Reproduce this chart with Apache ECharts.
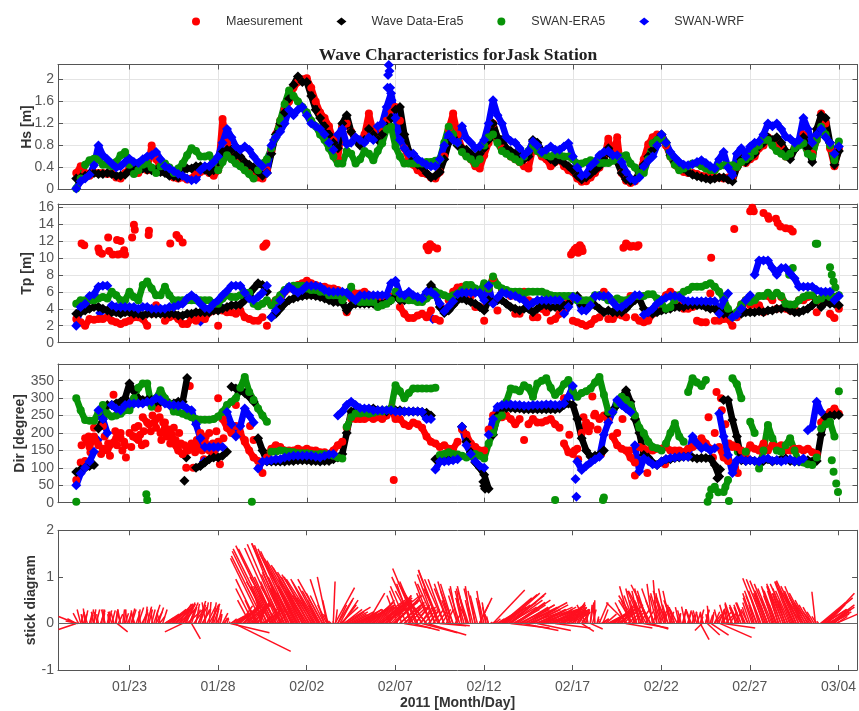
<!DOCTYPE html>
<html><head><meta charset="utf-8">
<style>html,body{margin:0;padding:0;background:#fff}#c{width:859px;height:711px;filter:blur(0.5px)}</style>
<script src="https://cdn.jsdelivr.net/npm/echarts@6/dist/echarts.min.js"></script>
</head><body><div id="c"></div>
<script>
const _ = null;
// x positions: day number counted from 1 Jan 2011 (01/23 = 23, 02/02 = 33, 03/04 = 63)
const tickDays = [23,28,33,38,43,48,53,58,63];
const tickLabels = ['01/23','01/28','02/02','02/07','02/12','02/17','02/22','02/27','03/04'];
const seriesNames = ['Maesurement','Wave Data-Era5','SWAN-ERA5','SWAN-WRF'];
// sampling days of the value lists: 20.00, 20.25 ... 63.00
const sampleDays = Array.from({length:173},(v,i)=>20+i/4);

const hsMeas = [.3,.42,.3,.25, .3,.3,.3,.28, .3,.22,.2,.3, .4,.35,.3,.4, .35,.8,.55,.4, .32,.28,.22,.2, .22,.18,.2,.3, .32,.35,.3,.25,
 .35,1.28,.85,.62, .55,.5,.42,.35, .28,.22,.2,.35, .7,1.0,1.25,1.45, 1.6,1.85,1.95,2.0, 2.02,1.85,1.6,1.4, 1.3,1.15,.9,.55,
 1.15,1.2,1.05,.9, .85,1.0,1.38,1.05, .95,1.1,1.25,1.45, 1.5,1.25,.75,.55, .45,.35,.3,.28,
 .22,.2,.32,.6, 1.1,1.38,1.0,.75, .62,.55,.42,.38, .62,.85,1.2,.92, .75,.72,.6,.55, .5,.42,.38,.75, .7,.6,.55,.42, .5,.55,.42,.35,
 .32,.2,.14,.15, .22,.3,.4,.55, .92,.6,.95,.3, .16,.12,.15,.3, .55,.82,.95,1.0, .95,.8,.6,.45, .38,.32,.3,.3, .28,.25,.24,.22, .22,.22,.2,.22,
 .22,.4,.5,.48, .55,.6,.75,.8, .95,.88,.85,.75, .6,.65,.75,.85, 1.0,.75,.65,.9, 1.38,1.2,.75,.42, .75];
const hsEra = [.2,.22,.25,.28, .3,.28,.28,.3, .28,.25,.25,.27, .35,.35,.4,.38, .36,.35,.36,.32, .3,.25,.24,.22, .35,.38,.38,.42, .42,.36,.32,.35,
 .5,.68,.72,.72, .62,.6,.5,.45, .4,.32,.25,.3, .65,1.0,1.2,1.4, 1.65,1.9,2.05,1.95, 1.95,1.7,1.45,1.3, 1.15,1.0,.85,.75,
 1.2,1.35,1.05,.9, .8,.9,1.1,1.0, .9,1.0,1.15,1.3, 1.45,1.5,1.0,.7, .55,.45,.4,.3,
 .22,.25,.32,.55, .85,.95,.8,.75, .72,.65,.55,.65, .75,.9,1.2,.95, .9,.75,.7,.65, .6,.55,.6,.9, .85,.7,.62,.55, .5,.55,.48,.42,
 .35,.25,.18,.22, .28,.35,.42,.55, .75,.6,.5,.3, .18,.15,.18,.3, .45,.6,.72,.9, 1.0,.85,.62,.5, .42,.38,.32,.27, .24,.22,.2,.18, .2,.22,.22,.18,
 .15,.4,.55,.5, .58,.65,.78,.85, .95,.9,.95,.85, .7,.55,.72,.85, .95,.75,.5,1.1, 1.35,1.3,.85,.45, .7];
const hsSwanEra = [.02,.2,.45,.53, .56,.55,.45,.45, .42,.5,.62,.68, .45,.28,.35,.45, .47,.4,.3,.42, .47,.4,.3,.38, .47,.62,.75,.7, .6,.6,.62,.5,
 .35,.5,.62,.55, .47,.42,.35,.28, .2,.35,.47,.55, .75,.95,1.25,1.55, 1.8,1.7,1.6,1.5, 1.4,1.25,1.15,1.0, .9,.75,.6,.47,
 .47,.7,.65,.47, .55,.7,.65,.53, .7,.84,1.1,1.14, .78,.6,.47,.47, .47,.47,.47,.5,
 .5,.52,.55,.85, 1.14,1.0,.85,.68, .6,.55,.47,.55, .8,.95,1.0,.85, .7,.65,.6,.55, .5,.6,.7,.78, .7,.65,.62,.6, .65,.62,.6,.6,
 .55,.47,.47,.5, .53,.5,.48,.48, .48,.52,.55,.6, .62,.47,.4,.3, .3,.55,.84,.9, .92,.85,.6,.45, .35,.38,.42,.47, .47,.42,.38,.35, .35,.42,.44,.42,
 .44,.41,.5,.55, .6,.7,.8,.9, .9,.8,.7,.65, .6,.65,.75,.8, .84,.65,.6,.9, 1.14,1.0,.8,.53, .87];
const hsWrf = [.02,.15,.2,.27, .44,.8,.62,.55, .47,.4,.42,.5, .56,.5,.48,.55, .6,.62,.68,.55, .42,.38,.33,.28, .25,.2,.17,.18, .35,.42,.42,.5,
 .6,.85,1.1,.95, .78,.72,.78,.72, .6,.5,.42,.3, .8,.95,1.05,1.2, 1.45,1.35,1.45,1.5, 1.35,1.2,1.15,1.1, 1.0,.85,.72,1.0,
 1.1,.82,.85,.95, .9,.85,.95,.9, 1.15,1.2,1.5,1.75, 1.3,.9,.75,.65, .65,.55,.5,.45,
 .42,.42,.55,.8, 1.0,.9,.85,1.15, .93,.85,.75,.78, .9,1.2,1.62,1.35, 1.2,.95,.88,.85, .75,.62,.7,.87, .8,.68,.72,.78, .72,.72,.78,.84,
 .6,.4,.25,.28, .42,.5,.62,.68, .7,.62,.62,.5, .32,.2,.16,.22, .42,.52,.6,.8, 1.0,.85,.68,.58, .5,.45,.44,.46, .5,.53,.48,.42, .38,.55,.68,.4,
 .26,.65,.75,.6, .78,.85,.87,1.0, 1.2,1.15,1.2,1.1, .96,.92,.85,.9, 1.3,1.1,.85,1.0, 1.1,.95,.85,.65, .78];
const hsWrfSpike = [[37.55,1.85],[37.58,2.08],[37.62,2.26],[37.66,2.15],[37.7,1.85],[37.78,1.62],[38.1,1.45],[28.4,.95],[31.15,.9]];

const tpMeas = [2.8,2.4,2,2.8, 2.7,2.8,2.8,3, 2.6,2.4,2.2,2.4, 2.6,3,3,2.8, 2,3.4,4.4,3.6, 2.6,3,3.2,2.8, 2.2,2.2,2.8,2.6, 3,2.8,3.6,3.8,
 2,3.8,3.6,3.6, 3.4,3.8,3,2.8, 2.6,2.6,3,2, 4.6,5,5.4,6, 6.4,6.6,6.8,7, 7.3,7,6.8,6.6, 6.6,6.4,6.4,6.2, 5.8,3.6,5.2,5.8, 5.8,6,5.6,5,
 4.8,5,5,5.4, 5.6,4.2,3.4,2.9, 2.9,3.2,3.4,3, 3.8,2.8,2.6,4, 5,6,6.5,6.6, 6,5.5,4.2,4.2, 2.6,6.4,7.6,3.8, 6.2,6,5.5,3.4, 3.4,6,5,3, 3,4,3.6,2.6,
 2.8,3.4,4,5, 2.6,2.4,2.2,2, 2.2,2.8,3,6, 2.8,2.8,3.4,3.2, 3,5.5,3,2.6, 2.4,2.6,3.4,4, 5,5.6,6,5.6, 4.4,4,4,4.2, 2.6,2.4,2.4,5.8, 2.6,2.6,2.8,2.8,
 2,3,4.5,5, 4.4,4.6,4.4,3.6, 5.5,5,4,5.4, 4,3.8,4,5, 5,5.4,5.5,3.6, 4.8,4.8,3.4,2.9, 4];
const tpMeasHigh = [[20.3,11.7],[20.45,11.5],[21.25,11.1],[21.3,10.7],[21.45,10.5],[21.8,12.4],[21.85,10.8],[22.05,10.4],[22.3,12.1],[22.35,10.4],[22.5,12],[22.55,10.5],[22.7,10.9],[22.75,10.4],[23.25,13.9],[23.3,13.3],[23.15,12.4],[24.1,13.2],[24.08,12.7],[25.3,11.7],[25.65,12.7],[25.8,12.3],[26,11.8],[30.55,11.3],[30.65,11.5],[30.72,11.7],
 [39.75,11.3],[39.85,10.9],[39.95,11.6],[40.1,11.3],[40.35,11.1],[47.9,10.4],[48,10.7],[48.1,11],[48.2,11.2],[48.3,10.6],[48.4,11.5],[48.5,11.2],[48.55,10.8],[50.85,11.2],[51,11.7],[51.1,11.5],[51.25,11.3],[51.4,11.4],[51.6,11.3],[51.7,11.5],[55.8,10],[57.1,13.4],[58.1,16.4],[58.12,15.9],[58,15.5],[58.2,15.5],[58.75,15.3],[59,14.9],[59.05,14.6],[59.45,14.6],[59.55,14.1],[59.7,13.7],[60,13.5],[60.25,13.4],[60.4,13.1]];
const tpEra = [3.4,3.6,3.8,4, 4.2,4.2,4,3.8, 3.6,3.6,3.4,3.6, 3.6,3.4,3.4,3.2, 3.4,3.4,3.4,3.4, 3.4,3.4,3.4,3.2, 3.2,3.4,3.4,3.6, 3.6,3.6,3.6,3.8,
 3.8,4,4.2,4.4, 4.4,4.5,5,5.6, 6.4,7,6.8,6, 3,3.4,4,4.6, 5,5.2,5.4,5.5, 5.6,5.6,5.5,5.4, 5.2,5,4.8,4.8, 4.7,3.8,4.4,4.6, 4.6,4.6,4.6,4.6,
 4.6,4.6,4.8,5, 5.5,5,5,5.2, 5.2,5.2,5,5.4, 6.8,6,4.2,3.5, 3.8,4.4,5,5.2, 5,4.8,4.6,4.2, 3.8,5,4.8,5, 5,4.6,4.2,4, 3.8,4,4,3.6, 4,4.4,4.4,4.2,
 4.2,4.2,4.4,4.6, 5.4,5.5,4.4,4, 4.4,4.4,4,3.6, 3.8,3.6,3.6,3.6, 4,4.6,5,5.2, 4,3.6,3.4,3.6, 3.8,3.9,4,4.2, 4.2,4.2,4.4,4.4, 4.4,4.4,4.2,4, 4,3.6,3.4,3.4,
 3.2,3.4,3.4,3.6, 3.6,3.6,3.7,3.6, 3.8,3.8,4,4, 4.2,3.8,3.6,3.6, 3.8,4,4.4,5, 4.2,4.8,4.6,4.6, 4.4];
const tpSwanEra = [4.6,5,5,5, 5,5.2,5.4,5.2, 6,5.6,5,5, 6,5.4,5,6.8, 7.2,6.4,5.6,5.6, 6.6,5.6,5,5, 5,5,5,5, 5,5,5,4.6,
 4.6,5.2,5.6,5.4, 5.4,5.6,5.9,5.9, 4.6,4.3,4.6,5, 4.4,5,5.6,6.2, 6.6,6.7,6.7,6.7, 6.4,6.2,6.2,6, 6,5.6,5.6,5.6, 5,5.6,6.6,5, 4.8,4.8,4.8,4.8,
 4.2,4.4,4.6,5, 6,5.2,5.2,5, 5,4.8,4.8,5.2, 5.6,6,5.8,5.6, 5.4,5.6,5.8,6.2, 6.8,6.8,6.4,6, 7,6.4,7.8,6.8, 6.4,6.2,6,6, 6,5.8,6,6, 6,6,5.8,5.6,
 5.5,5.5,5.5,5.5, 5.5,5,5,5, 5,5.6,5.6,5.4, 5,5,5.2,5, 5,5.2,5.5,5.5, 5.5,5.7,5.7,5.2, 4.6,4,4.2,5, 5.6,6,6.2,6.6, 6.6,6.6,6.8,7, 6.6,6,5.2,4,
 3,3.6,4.5,5, 4.8,5,5.5,5.5, 5.9,5.5,5.9,5.5, 4.6,4.5,4.5,5, 5.4,5.6,5.6,5, 5.2,5.6,5.4,5.4, 5.6];
const tpSwanEraHigh = [[60.2,8],[60.4,8.8],[61.7,11.65],[61.78,11.65],[62.5,8.9],[62.6,8],[62.7,7.2],[62.8,6.5]];
const tpWrf = [2,4.2,4.6,5.5, 5.7,6.6,6.7,6.7, 4.4,4.2,4.2,4.2, 4.2,4.2,4,4.2, 4.2,4,4,4, 4,4.2,4.2,4.4, 4.6,5.2,5.6,5.2, 4.6,4.1,4,4.6,
 5,5.6,6.1,6.7, 6.7,6.7,5.9,5.2, 5,5.4,5.9,6.7, 3,3.8,5,6, 6.6,6.2,5.9,6.2, 6.7,6.7,6.7,6.6, 6.2,6,6,6, 6,5.9,5.4,5, 5.6,5.6,5.6,5.6,
 5.6,5.6,5.6,7, 7.3,5.8,5.6,6, 5.6,5.4,5.2,6, 6,5.6,4.6,3.7, 4.3,4.9,5.7,5.9, 5.9,5.9,5.9,5.9, 5,6.7,4.6,5.3, 5.9,5.8,5.6,5.5, 5.2,5,4.4,4.7, 5,5,5,5,
 5,5,3.4,4.2, 5.4,5.2,3.8,3.8, 4.4,5.5,5.5,5.5, 5.5,4.8,4.2,4.2, 4.6,5,5.6,5.6, 3.3,3.6,4,4.6, 5,5.3,5.5,5.5, 5.4,5,4.9,4.9, 4.9,4.9,4.9,4.9, 4.9,3.4,5,5.8,
 3,3.3,4,5, 5.6,8,9.7,9.7, 9.7,8.8,8,8.8, 8.8,8.2,7.6,6.6, 6.6,6.6,6.6,6.2, 6,6,6,5, 5.5];
const tpWrfExtra = [[21.35,3.5],[27,2.5],[40.1,2.8],[28.3,4]];

const dirMeas = [65,115,185,160, 190,165,220,150, 170,185,200,165, 200,190,180,245, 230,280,240,200, 215,190,170,150, 140,150,165,155, 200,175,150,135,
 300,240,215,200, 220,200,175,150, 130,120,85,130, 155,165,160,150, 150,150,155,150, 155,150,150,145, 145,140,150,165, 175,215,245,240,
 240,240,245,240, 245,240,250,270, 240,240,225,220, 230,225,215,190, 175,170,160,165, 155,155,175,210, 195,170,160,150, 150,210,250,245, 245,250,240,225, 240,180,225,240, 230,230,235,240,
 225,215,170,145, 140,155,200,230, 220,255,240,250, 235,190,165,155, 150,130,115,160, 155,150,150,155, 155,160,150,150, 150,145,155,160, 165,185,170,155, 200,160,130,120,
 165,160,150,140, 165,155,150,170, 150,165,160,165, 150,150,155,155, 150,155,145,140, 230,250,260,270, 255];
const dirMeasExtra = [[20.5,120],[20.8,145],[21,215],[21.4,140],[21.6,190],[21.9,135],[22.1,310],[22.3,165],[22.6,150],[22.8,130],[23.1,160],[23.3,215],[23.5,220],[23.7,165],[23.9,170],[24.2,205],[24.4,230],[24.6,270],[24.8,180],[25,230],[25.2,210],[25.4,195],[25.6,180],[25.8,200],[26,140],[26.2,100],[26.4,335],[26.6,100],[26.8,180],[27,195],[27.2,125],[27.5,200],[27.7,170],[27.9,205],[28.1,110],[28.3,185],[28.7,225],[29,280],[29.2,210],[29.5,180],[29.8,220],[30,180],[30.3,100],[37.9,65],
 [20.3,165],[20.7,190],[21.2,175],[21.5,155],[21.8,170],[22.2,205],[22.5,185],[22.7,175],[23.2,190],[23.4,185],[23.6,195],[23.8,205],[24.1,225],[24.3,250],[24.5,215],[24.7,245],[24.9,230],[25.1,190],[25.3,170],[25.5,215],[25.7,160],[25.9,170],[26.1,165],[26.3,150],[26.5,170],[26.7,145],[26.9,165],[27.1,150],[27.3,190],[27.6,165],[27.8,150],[28,175],
 [47.5,300],[47.8,195],[48.1,150],[48.3,125],[48.6,245],[48.9,205],[49.1,305],[49.2,250],[49.4,210],[49.6,140],[50.2,260],[50.5,200],[50.8,240],[51.2,150],[51.5,78],[52.2,85],[53.2,110],[55.65,245],[55.9,130],[56.1,318],[56.35,300],[56.4,265],[56.6,225],[56.8,170],[57,160],[57.15,100],[57.3,85],[57.6,140]];
const dirEra = [88,95,100,105, 108,213,240,280, 280,285,290,300, 342,320,300,295, 295,295,290,290, 288,285,285,290, 290,358,_,100, 105,115,125,130, 130,135,146,333,
 328,323,315,304, 290,185,150,118, 118,118,118,118, 120,120,122,122, 122,120,120,118, 120,120,125,130, 140,200,262,265, 265,265,268,270, 265,265,262,265, 265,265,262,262, 262,262,260,258,
 250,125,120,125, 128,132,135,218, 175,145,115,100, 80,40,195,250, 270,272,272,270, 270,268,268,268, 268,268,268,268, 268,270,280,285, 280,240,185,150, 132,135,138,150, 256,265,280,300,
 323,290,240,200, 137,130,115,108, 118,125,125,128, 130,132,132,130, 127,128,128,127, 108,75,295,295, 237,190,122,120, 122,120,118,120, 125,118,122,125, 127,120,118,118, 120,122,118,120, 195,245,250,252, 252];
const dirEraExtra = [[26.1,63],[26.2,130],[42.95,60],[43,48],[43.05,40],[56.3,95],[56.15,70]];
const dirSwanEra = [300,265,237,235, 235,260,280,255, 247,250,255,265, 265,300,330,342, 342,275,300,323, 300,285,262,260, 255,250,245,240, 238,238,238,240, 247,260,280,290,
 300,330,361,318, 295,270,250,232, 146,146,150,148, 146,145,142,142, 142,140,138,140, 140,138,135,130, 127,218,245,256, 256,258,255,258, 262,262,265,270, 337,320,300,315, 328,328,328,328,
 328,330,137,140, 145,140,138,135, 130,135,140,135, 127,170,200,242, 250,290,328,325, 320,337,330,304, 342,350,357,330, 309,320,340,352, 320,304,315,320, 328,345,361,310, 261,260,285,304,
 295,280,250,215, 199,175,160,156, 150,170,200,228, 190,175,318,357, 345,335,352,_, 46,_,31,65, 357,340,300,146, 232,200,98,150, 223,185,150,146, 165,185,150,118, 115,110,108,130, 213,225,232,190, 320];
const dirSwanEraExtra = [[20,3],[23.95,24],[24,8],[29.9,3],[47,8],[49.7,8],[49.75,15],[55.6,3],[55.7,20],[55.8,38],[56,40],[56.2,30],[56.6,45],[56.8,5],[62.6,122],[62.7,89],[62.85,55],[62.95,31],[57.3,146]];
const dirWrf = [50,84,100,118, 146,265,240,200, 280,270,265,280, 285,285,285,285, 290,290,300,295, 285,280,280,278, 280,270,265,225, 185,160,160,160, 160,160,260,225,
 190,220,270,250, 230,98,118,120, 122,125,125,130, 132,135,135,135, 135,135,132,130, 135,138,140,250, 262,280,290,280, 272,270,270,265, 265,265,265,265, 262,262,262,262, 262,262,260,240,
 240,95,118,118, 120,122,125,218, 165,140,118,105, 100,195,240,275, 280,282,282,280, 280,278,278,280, 280,280,282,282, 280,280,285,305, 335,118,94,105, 115,125,132,195, 230,260,295,280,
 270,260,165,90, 127,120,110,108, 118,125,128,130, 132,132,132,190, 170,156,160,150, 156,256,190,137, 85,122,125,120, 122,120,118,125, 127,120,122,118, 122,125,118,120, 127,208,218,290, 260];
const dirWrfExtra = [[48.15,68],[48.2,17],[48.05,305],[21.2,180],[27.2,118]];

// each stick: [base day, east component in days, north component]
const sticks = [[20,-1,.15],[20,-1,-.13],[20.1,-.7,.05],[20.25,-.2,.3],[20.4,.2,.2],[20.5,-.1,.32],[20.75,.15,.22],[21,.1,.3],[21.2,-.2,.25],[21.4,.2,.3],[21.6,-.1,.3],[21.8,.2,.28],[22,-.2,.25],[22.2,.15,.3],[22.3,.6,-.18],[22.5,-.15,.28],[22.7,.1,.3],[22.9,.2,.2],[23.1,.2,.32],[23.3,-.2,.22],[23.5,.1,.3],[23.7,.3,.2],[23.9,.1,.36],[24.1,.2,.3],[24.3,-.1,.32],[24.5,.35,.25],[24.7,.3,.15],
 [25,.8,.2],[25.2,1,.3],[25.4,1.2,.42],[25.6,1,.35],[25.8,.7,.42],[26,-1,-.18],[26,.6,.4],[26.2,.5,.45],[26.4,.3,.3],[26.5,.5,-.33],[26.7,.3,.3],[26.9,.4,.48],[27.1,.5,.3],[27.3,-.2,.45],[27.5,.6,.42],[27.7,.2,.45],[27.9,.3,.2],[28.1,.1,.15],[28.3,.3,.12],
 [28.7,2.2,-.2],[28.9,3.2,-.6],[28.7,1,.2],[29,1.3,.3],[29.2,1.2,.35],[29.4,1,.4],[29.6,.9,.4],[29.8,1,.42],[30,.9,.45],[30.2,.6,.4],[30.4,.2,.35],[30.5,1.2,.3],[30.7,.7,.25],[30.9,.6,.3],[31.1,.5,.35],
 [30.5,-1.8,1.4],[30.65,-1.9,1.45],[30.8,-2,1.55],[30.95,-2.1,1.6],[31.1,-2.1,1.67],[31.25,-2.1,1.6],[31.4,-1.9,1.62],[31.55,-1.9,1.7],[31.7,-1.8,1.72],[31.85,-1.8,1.68],[32,-2.1,1.72],[32.15,-1.9,1.6],[32.3,-1.9,1.55],[32.45,-2.1,1.5],[32.6,-2,1.4],[32.75,-2,1.35],[32.9,-1.9,1.25],[33,-1.9,1.2],[33.15,-1.8,1.1],[33.3,-1.7,1.05],[33.45,-1.6,.95],[33.6,-1.5,.95],[33.75,-1,.7],[33.9,-1.4,.95],[34,-.8,.95],[34.15,-.55,1],[34.2,-.3,.5],
 [31,-1.4,.9],[31.3,-1.5,1.0],[31.6,-1.2,.8],[31.9,-1.4,1.1],[32.2,-1.3,.9],[32.5,-1.1,.8],[32.8,-1,.7],[33.1,-.9,.6],[33.4,-.8,.5],[33.7,-.6,.4],[30.2,-1.2,.95],[30,-1,.75],[29.8,-.7,.5],[30.3,-.5,.3],
 [34.5,.1,.9],[34.6,1.1,.77],[34.75,.9,.55],[34.9,1,.35],[35,.9,.5],[35.1,1.5,.35],[35.25,1,.25],[35.5,1.1,.2],[35.75,1.5,.3],[36,1.6,.3],[36.25,1.7,.4],[36.4,1,.65],[36.5,1.4,.45],[36.75,1.2,.5],[37,1.6,.45],[37.15,2.1,.45],[37.25,1.7,.55],[37.4,2,.6],[37.5,1.4,.6],[37.75,1.2,.5],[37.9,1.6,.6],[38,.9,.6],[38.25,1.2,.4],[38.5,.9,.3],
 [38.5,1.5,-.1],[39,1.5,-.15],[39.5,2,-.2],[39.8,2.2,-.25],[40.5,1.5,-.05],[41,1.2,-.05],[38.7,.9,.45],[39.1,.8,.35],[39.4,.7,.35],[39.9,.6,.3],
 [39,-1.2,1],[39.15,-1.3,1.18],[39.25,-1.1,.9],[39.5,-1.2,.8],[39.75,-1.2,.6],[40,-.9,.9],[40.25,-1,1.05],[40.4,-1.1,1.15],[40.5,-1.2,1.15],[40.75,-.9,.95],[41,-.8,.85],[41.1,-.7,.9],[41.25,-.7,.85],[41.5,-.4,.8],[41.75,-.3,.75],[42,-.5,.8],[42.1,-.7,.55],[42.25,-.3,.8],[42.5,-.4,.7],[42.75,.7,.55],[42.9,-.3,.7],[43.1,-.2,.45],[43.25,-.2,.2],
 [43.5,1.8,.72],[43.75,.4,.1],[44,1.7,.55],[44.1,1.9,.62],[44.25,1.9,.65],[44.4,2,.6],[44.5,2,.65],[44.75,2,.5],[45,2,.4],[45.25,1.9,.35],[45.5,2.2,.45],[45.75,2,.4],[46,2,.35],[46.25,2,.3],[46.5,1.7,.35],[46.75,1.8,.3],[47,1.5,.35],[47.25,1.7,.3],[47.5,1.2,.42],[47.75,1.2,.3],[48,.7,.45],[48.25,.4,.3],[48.75,-.5,.4],[48.6,-.3,.3],[49,.2,.45],[49.25,0,.5],[49.4,.1,.1],[49.5,.5,.45],[49.7,.3,.3],
 [44.5,2.2,-.1],[45.2,2,-.15],[46,1.9,-.15],[47,2,-.1],[48.5,.7,-.17],[49,.7,-.12],[51,1.5,-.1],[52,1.4,-.1],[52.4,1,-.12],
 [50,1.2,.25],[50.25,1.3,.3],[50.5,1.1,.45],[50.75,.7,.35],[51,-.6,.45],[51.1,-1.2,.45],[51.25,-.6,.8],[51.4,-.8,.5],[51.5,-.5,.75],[51.6,-1,.6],[51.75,-.4,.7],[51.9,-.8,.7],[52,-.5,.75],[52.15,-1,.7],[52.25,-.6,.7],[52.4,-1.1,.83],[52.5,-.3,.85],[52.6,-.7,.75],[52.75,-.2,.93],[52.9,-.5,.65],[53,-.3,.65],[53.15,-.6,.7],[53.25,-.4,.75],[53.4,-.7,.5],[53.5,-.4,.7],[53.65,-.5,.5],[53.75,-.4,.4],[53.9,-.4,.3],
 [54,-.2,.35],[54.2,.2,.3],[54.35,-.2,.36],[54.5,.2,.28],[54.7,-.3,.3],[54.85,.15,.25],[55,-.2,.28],[55.2,.2,.3],[55.35,-.15,.25],[55.5,.2,.3],[55.7,-.1,.38],[55.85,.1,.2],[55.2,.5,-.35],[55.3,-.4,-.15],[55.6,.7,-.25],[55.8,1,-.25],[56.3,1.8,-.3],[56.5,1.8,-.1],
 [56,.3,.25],[56.2,-.2,.3],[56.4,.2,.32],[56.6,-.3,.4],[56.8,-.2,.42],[57,-.4,.45],[57.2,-.3,.35],[57.35,-.5,.4],[57.5,-.4,.35],[57.7,-.5,.45],[57.9,-.4,.3],
 [58.2,-.6,.65],[58.4,-.7,.7],[58.6,-1,.97],[58.8,-1,.95],[58.9,-.7,.65],[59,-1,.92],[59.15,-.9,.85],[59.3,-.6,.75],[59.45,-.8,.8],[59.6,-.6,.7],[59.75,-.8,.85],[59.9,-.9,.8],[60,-.7,.75],[60.15,-1,.85],[60.3,-.9,.9],[60.45,-1,.9],[60.6,-1.1,.92],[60.75,-1,.8],[60.9,-1.2,.7],[61,-1.1,.65],[61.15,-.9,.55],[61.3,-.8,.45],[61.5,-.5,.25],
 [59,-.4,.4],[59.5,-.4,.4],[60,-.4,.4],[60.5,-.5,.4],[61,-.4,.3],
 [61.7,-.2,.68],[62,1.4,.45],[62.1,1.7,.55],[62.2,1.3,.3],[62.3,1.6,.65],[62.4,1.2,.25],[62.5,1.4,.4],[62.6,1,.2],[62.7,1,.3],[62.9,.6,.15]];
// denser low sticks, one every 1/8 day from day 20
const stickFillU = [-.5,-.3,.2,-.1,.15,-.2,.2,.1, -.15,.2,-.1,.25,.1,-.2,.15,-.1, .2,-.15,.1,.25,-.2,.1,.2,-.1, .1,.25,-.15,.2,.3,-.1,.2,.15, .25,-.1,.2,.35,.1,.3,-.2,.25,
 .5,.8,.9,1,1.1,.9,1,.8, .8,.6,.9,.5,.3,.6,.2,.5, .3,.4,.2,.5,.1,.4,.3,.2, .2,.1,.3,.15,.1,.05,.3,.6, .9,1,.7,1.2,.8,1,.6,1.1, .9,-.6,.7,.3,-.5,.8,-.9,1,
 -1,-.8,-1.2,.7,-1.1,-.7,-1.3,-.9, -1,-1.3,-.9,-1.4,-1.1,-1.2,-.8,-1.3, -1.1,-1.4,-.8,-1.2,-.9,-1.1,-.7,-.9, -.8,-.5,-.3,-.15,0,.1,.5,.7, .8,1,1.2,1,1.3,.9,1.2,1.1,
 1.3,1.1,1.4,1.2,1.5,1.3,1.6,1.2, 1.4,1.6,1.3,1.7,1.4,1.2,-.5,1.5, 1.3,-.6,1.4,-.7,1.2,-.9,1,-.8, -1,.8,-1,.9,-1.1,.7,-1.2,.6, -.8,.6,-1,.5,-.9,.5,-1.1,.4,
 -.8,-.5,-.7,.3,-.5,-.6,-.3,-.5, -.4,-.6,-.3,-.5,-.2,-.4,.5,-.3, -.3,-.2,-.1,.1,.2,.3,.9,1.2, 1.4,1.5,1.7,1.6,1.8,1.5,1.7,1.6, 1.7,1.5,1.8,1.6,1.9,1.7,1.5,1.8,
 1.6,1.8,1.4,1.7,1.5,1.8,1.4,1.6, 1.4,1.6,1.2,1.4,1,1.3,.9,1.1, .8,.6,.7,.4,.5,.3,.2,-.2, .1,.2,-.1,.1,.05,.4,.3,.6, .8,1,1.1,.9,1.2,1,.8,1.1,
 -.4,.9,-.5,.7,-.6,-.4,.6,-.5, -.5,.5,-.6,-.7,.4,-.5,-.4,.5, -.4,.3,-.5,-.3,.2,-.4,-.3,.2, .1,-.2,.15,-.1,.2,-.25,.1,-.15, .2,-.15,.1,-.2,.2,-.1,.15,.1,
 .4,.5,.3,.6,.2,.5,-.2,.4, -.3,.4,-.4,-.2,-.4,-.3,-.5,-.3, -.4,-.5,-.3,-.6,-.4,-.7,-.5,-.6, -.7,-.5,-.8,-.6,-.7,-.5,-.8,-.6, -.7,-.5,-.8,-.6,-.9,-.7,-.8,-.9,
 -.8,-.9,-.7,-.6,-.5,-.4,-.25,-.1, .8,1,1.2,1,1.4,1.1,.9,1.2];
const stickFillV = [.1,.22,.25,.2,.28,.24,.18,.3, .25,.3,.2,.28,.22,.3,.26,.2, .28,.22,.3,.2,.26,.3,.22,.28, .24,.3,.28,.2,.34,.26,.2,.3, .36,.24,.3,.4,.28,.34,.22,.3,
 .12,.2,.25,.3,.32,.36,.3,.4, .35,.42,.3,.45,.35,.3,.42,.35, .4,.3,.45,.38,.46,.4,.32,.42, .3,.2,.22,.12,.1,.04,.1,.15, .25,.32,.38,.3,.42,.36,.45,.4, .4,.5,.45,.42,.7,.35,.8,.3,
 .8,.6,1,.3,.9,.55,1.05,.7, .75,1,.65,1.1,.8,.95,.6,1, .7,1,.55,.9,.6,.8,.5,.65, .6,.4,.2,.05,.05,.3,.4,.5, .4,.3,.25,.2,.25,.15,.2,.22,
 .25,.3,.35,.3,.4,.35,.45,.35, .4,.45,.5,.42,.5,.55,.3,.5, .5,.6,.45,.7,.4,.8,.35,.85, .7,.4,.9,.35,.7,.3,.6,.3, .65,.3,.85,.25,.75,.3,.95,.3,
 .75,.5,.7,.2,.6,.75,.5,.7, .6,.7,.5,.75,.45,.6,.4,.55, .5,.35,.15,.03,.05,.1,.2,.3, .35,.4,.45,.35,.5,.3,.45,.4, .3,.35,.3,.4,.25,.3,.35,.25,
 .3,.25,.3,.2,.3,.22,.28,.2, .3,.2,.28,.22,.35,.25,.38,.22, .35,.4,.28,.35,.25,.3,.3,.35, .4,.3,.4,.15,.05,.1,.1,.2, .15,.2,.25,.3,.25,.35,.3,.4,
 .3,.3,.5,.25,.6,.5,.3,.55, .5,.3,.6,.55,.35,.5,.6,.3, .5,.3,.55,.4,.25,.45,.35,.2, .22,.28,.3,.2,.25,.3,.18,.25, .2,.25,.15,.22,.28,.2,.18,.25,
 .2,.25,.3,.25,.28,.2,.3,.25, .3,.25,.35,.3,.4,.35,.45,.35, .45,.55,.4,.6,.5,.7,.55,.65, .7,.55,.75,.6,.7,.6,.8,.65, .65,.5,.7,.6,.75,.65,.7,.8,
 .6,.65,.5,.4,.35,.25,.15,.05, .2,.3,.3,.4,.35,.25,.3,.2];

const tickColor='#555', textColor='#555', gridColor='#e4e4e4';
const rects=[[64.5,125],[204,138.7],[364,138.7],[530.3,140]];
const yRanges=[[0,2.27,[0,.4,.8,1.2,1.6,2]],[0,16.35,[0,2,4,6,8,10,12,14,16]],[0,398,[0,50,100,150,200,250,300,350]],[-1,2,[-1,0,1,2]]];
const yNames=['Hs [m]','Tp [m]','Dir [degree]','stick diagram'];
const nameGaps=[24,24,31,20];
const xMin=18.97,xMax=64.05;

const grid=rects.map(r=>({left:58,right:1.5,top:r[0],height:r[1]}));
const xAxis=[],yAxis=[];
const nameStyle={fontSize:14,fontWeight:'bold',color:'#333',fontFamily:'Liberation Sans'};
rects.forEach((r,i)=>{
  const line={show:true,lineStyle:{color:tickColor,width:1},onZero:false};
  ['bottom','top'].forEach((pos,k)=>xAxis.push({type:'value',gridIndex:i,position:pos,min:xMin,max:xMax,
    axisLine:line,
    axisTick:{show:true,inside:true,length:5,lineStyle:{color:tickColor},customValues:tickDays},
    axisLabel:{show:i==3&&k==0,customValues:tickDays,color:textColor,fontSize:14,fontFamily:'Liberation Sans',margin:10,
      formatter:v=>tickLabels[tickDays.indexOf(v)]},
    splitLine:{show:i<3&&k==0,lineStyle:{color:gridColor}},
    name:(i==3&&k==0)?'2011 [Month/Day]':'',nameLocation:'middle',nameGap:26,nameMoveOverlap:false,
    nameTextStyle:nameStyle}));
  const ys=yRanges[i];
  ['left','right'].forEach((pos,k)=>yAxis.push({type:'value',gridIndex:i,position:pos,min:ys[0],max:ys[1],
    axisLine:line,
    axisTick:{show:true,inside:true,length:5,lineStyle:{color:tickColor},customValues:ys[2]},
    axisLabel:{show:k==0,customValues:ys[2],color:textColor,fontSize:14,fontFamily:'Liberation Sans',margin:4},
    splitLine:{show:i<3&&k==0,lineStyle:{color:gridColor}},
    name:k==0?yNames[i]:'',nameLocation:'middle',nameGap:nameGaps[i],nameMoveOverlap:false,
    nameTextStyle:nameStyle}));
});

const looks=[{color:'#ff0000',symbol:'circle',symbolSize:8},{color:'#000000',symbol:'diamond',symbolSize:10},{color:'#079307',symbol:'circle',symbolSize:8},{color:'#0000ff',symbol:'diamond',symbolSize:10}];
// consecutive samples join into a band of markers unless they jump further than `gap`
function band(vals,gap){
  const a=[];let prev=null;
  vals.forEach((v,i)=>{
    if(v===null){a.push([sampleDays[i],null]);prev=null;return;}
    if(prev!==null&&Math.abs(v-prev)>gap)a.push([sampleDays[i],null]);
    a.push([sampleDays[i],v]);prev=v;
  });
  return a;
}
const panels=[
 [[hsMeas,9,[]],[hsEra,9,[]],[hsSwanEra,9,[]],[hsWrf,9,hsWrfSpike]],
 [[tpMeas,.9,tpMeasHigh],[tpEra,2,[]],[tpSwanEra,2,tpSwanEraHigh],[tpWrf,2.2,tpWrfExtra]],
 [[dirMeas,30,dirMeasExtra],[dirEra,75,dirEraExtra],[dirSwanEra,75,dirSwanEraExtra],[dirWrf,75,dirWrfExtra]]
];
const series=[];
panels.forEach((p,i)=>p.forEach((d,k)=>{
  const L=looks[k];
  series.push({name:seriesNames[k],type:'line',xAxisIndex:2*i,yAxisIndex:2*i,data:band(d[0],d[1]),connectNulls:false,
    symbol:L.symbol,symbolSize:L.symbolSize,showSymbol:true,showAllSymbol:true,lineStyle:{width:6.5,color:L.color},
    itemStyle:{color:L.color,opacity:1},silent:true,animation:false});
  if(d[2].length)series.push({name:seriesNames[k],type:'scatter',xAxisIndex:2*i,yAxisIndex:2*i,data:d[2],
    symbol:L.symbol,symbolSize:L.symbolSize,itemStyle:{color:L.color,opacity:1},silent:true,animation:false});
}));
const allSticks=sticks.concat(stickFillU.map((u,i)=>[20+i/8,u,stickFillV[i]]));
series.push({type:'custom',xAxisIndex:6,yAxisIndex:6,clip:true,silent:true,animation:false,data:allSticks,
  encode:{x:0,y:2},
  renderItem:(params,api)=>{
    const d=api.value(0),u=api.value(1),v=api.value(2);
    const a=api.coord([d,0]),b=api.coord([d+u,v]);
    return {type:'line',shape:{x1:a[0],y1:a[1],x2:b[0],y2:b[1]},style:{stroke:'#ff1020',lineWidth:1.5}};
  },
  markLine:{silent:true,symbol:'none',animation:false,label:{show:false},lineStyle:{color:'#666',type:'solid',width:1},data:[{yAxis:0}]}
});

const chart=echarts.init(document.getElementById('c'),null,{renderer:'canvas'});
chart.setOption({
  animation:false,backgroundColor:'#fff',
  title:{text:'Wave Characteristics forJask Station',left:453,top:41,textAlign:'center',
    textStyle:{fontFamily:'Liberation Serif',fontWeight:'bold',fontSize:17.5,color:'#222'}},
  legend:{top:10,left:187,itemWidth:10,itemHeight:8,itemGap:34,
    textStyle:{fontFamily:'Liberation Sans',fontSize:12.5,color:'#333',padding:[0,0,0,20]},
    data:[{name:seriesNames[0],icon:'circle'},{name:seriesNames[1],icon:'diamond'},{name:seriesNames[2],icon:'circle'},{name:seriesNames[3],icon:'diamond'}]},
  grid,xAxis,yAxis,series
});
</script></body></html>
